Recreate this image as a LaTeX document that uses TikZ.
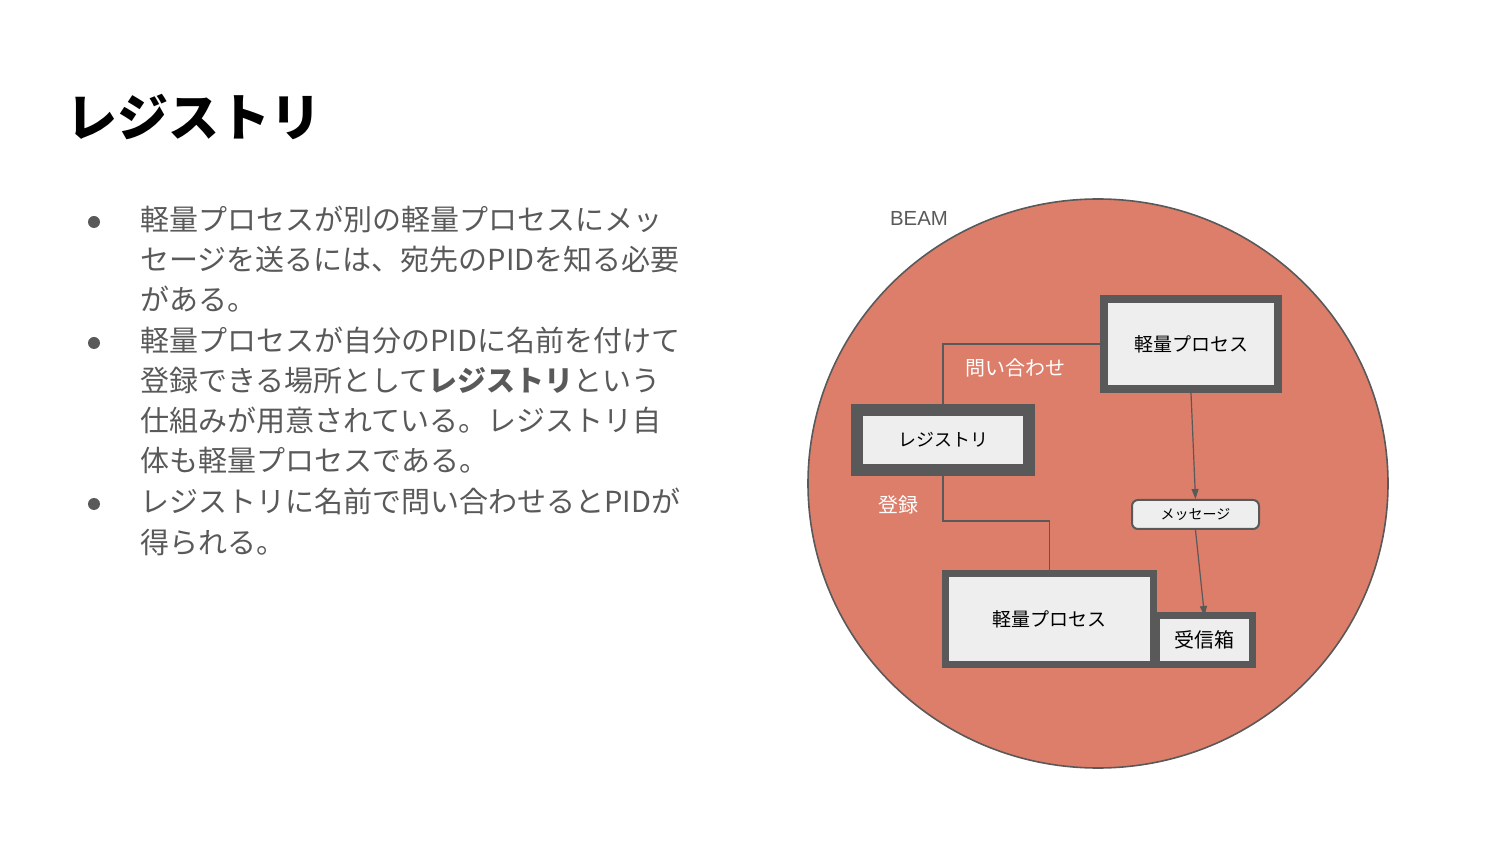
\documentclass[tikz,border=0pt]{standalone}
\usepackage{fontspec}
\setmainfont{Noto Sans CJK JP}
\newfontfamily\beamfont{Liberation Sans}
\usetikzlibrary{arrows.meta}
\definecolor{berry}{HTML}{DD7E6B}
\definecolor{dgray}{HTML}{595959}
\definecolor{boxfill}{HTML}{EEEEEE}
\tikzset{
  bodyline/.style={anchor=base west, inner sep=0pt, text=dgray, font=\fontsize{14.5}{20}\selectfont},
  proc/.style={draw=dgray, fill=boxfill, inner sep=0pt, font=\fontsize{9.5}{11}\selectfont},
  conn/.style={draw=dgray, line width=0.6pt},
  arr/.style={conn, -{Triangle[length=5pt,width=3.5pt]}},
  lbl/.style={text=white, inner sep=0pt, font=\fontsize{10}{12}\selectfont},
  bulletdot/.style={fill=dgray}
}
\begin{document}
\begin{tikzpicture}[x=0.5pt,y=-0.5pt]
\useasboundingbox (0,0) rectangle (1500,844);
% title
\node[anchor=base west, inner sep=0pt, font=\fontsize{25.5}{30}\bfseries\selectfont] (title) at (66,137) {レジストリ};
% bullets
\fill[bulletdot] (94,222) circle (6);
\fill[bulletdot] (94,343) circle (6);
\fill[bulletdot] (94,504) circle (6);
\node[bodyline] (l1) at (140,231) {軽量プロセスが別の軽量プロセスにメッ};
\node[bodyline] (l2) at (140,271) {セージを送るには、宛先のPIDを知る必要};
\node[bodyline] (l3) at (140,311) {がある。};
\node[bodyline] (l4) at (140,352) {軽量プロセスが自分のPIDに名前を付けて};
\node[bodyline] (l5) at (140,392) {登録できる場所として\textbf{レジストリ}という};
\node[bodyline] (l6) at (140,432) {仕組みが用意されている。レジストリ自};
\node[bodyline] (l7) at (140,472) {体も軽量プロセスである。};
\node[bodyline] (l8) at (140,513) {レジストリに名前で問い合わせるとPIDが};
\node[bodyline] (l9) at (140,553) {得られる。};
% BEAM circle
\draw[draw=dgray, line width=0.8pt, fill=berry] (1098,483.5) ellipse [x radius=290, y radius=284.5];
\node[text=dgray, inner sep=0pt, font=\beamfont\fontsize{10.2}{12}\selectfont] (beam) at (919,218) {BEAM};
% boxes
\node[proc, line width=4pt, minimum width=87pt, minimum height=45pt] (tp) at (1191,344) {軽量プロセス};
\node[proc, line width=6pt, minimum width=86pt, minimum height=30pt, font=\fontsize{9}{11}\selectfont] (reg) at (943,440) {レジストリ};
\node[proc, line width=3.5pt, minimum width=104pt, minimum height=45.5pt] (bp) at (1049.5,619) {軽量プロセス};
\node[proc, line width=3.5pt, minimum width=48pt, minimum height=24.5pt, font=\fontsize{10}{12}\selectfont] (inbox) at (1204.5,640) {受信箱};
\node[proc, line width=1pt, rounded corners=3pt, minimum width=63.5pt, minimum height=14.5pt, font=\fontsize{7}{9}\selectfont] (msg) at (1195.5,514.5) {メッセージ};
% connectors
\coordinate (rk) at (1000,521);
\draw[conn] (tp.west) -| (reg.north);
\draw[conn] (reg.south) |- (rk) -| (bp.north);
\draw[arr] (tp.south) -- (msg.north);
\draw[arr] (msg.south) -- ([yshift=-2pt]inbox.north);
% labels
\node[lbl] (qlbl) at (1015,368) {問い合わせ};
\node[lbl] (rlbl) at (898,505) {登録};
\end{tikzpicture}
\end{document}
